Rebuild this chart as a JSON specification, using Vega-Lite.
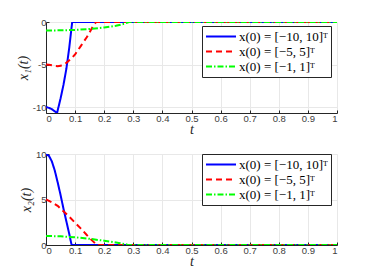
{
  "$schema": "https://vega.github.io/schema/vega-lite/v6.json",
  "background": "white",
  "padding": {"left": 16, "top": 17, "right": 5, "bottom": 5},
  "spacing": 12,
  "config": {
    "view": {"stroke": null},
    "axis": {
      "domainColor": "#262626", "tickColor": "#262626", "tickSize": -3,
      "gridColor": "#e8e8e8", "labelColor": "#404040", "labelFont": "Liberation Sans",
      "labelFontSize": 9.5, "titleFont": "Liberation Serif", "titleFontStyle": "italic",
      "titleFontWeight": "normal", "titleFontSize": 14, "titleColor": "#262626"
    },
    "legend": {
      "orient": "none", "legendX": 156, "strokeColor": "#262626", "fillColor": "white",
      "padding": 3, "rowPadding": 0, "clipHeight": 15, "symbolType": "stroke", "symbolSize": 900,
      "symbolStrokeWidth": 2, "labelFont": "Liberation Serif", "labelFontSize": 13,
      "labelColor": "#000000", "labelOffset": 2, "title": null
    }
  },
  "datasets": {
    "x1": [
      {"s": "x(0) = [−10, 10]ᵀ", "t": 0, "v": -10},
      {"s": "x(0) = [−10, 10]ᵀ", "t": 0.01, "v": -10.1},
      {"s": "x(0) = [−10, 10]ᵀ", "t": 0.02, "v": -10.25},
      {"s": "x(0) = [−10, 10]ᵀ", "t": 0.03, "v": -10.5},
      {"s": "x(0) = [−10, 10]ᵀ", "t": 0.038, "v": -10.7},
      {"s": "x(0) = [−10, 10]ᵀ", "t": 0.05, "v": -9.0},
      {"s": "x(0) = [−10, 10]ᵀ", "t": 0.06, "v": -7.4},
      {"s": "x(0) = [−10, 10]ᵀ", "t": 0.07, "v": -5.5},
      {"s": "x(0) = [−10, 10]ᵀ", "t": 0.08, "v": -3.0},
      {"s": "x(0) = [−10, 10]ᵀ", "t": 0.09, "v": 0},
      {"s": "x(0) = [−10, 10]ᵀ", "t": 1, "v": 0},
      {"s": "x(0) = [−5, 5]ᵀ", "t": 0, "v": -5},
      {"s": "x(0) = [−5, 5]ᵀ", "t": 0.01, "v": -5.02},
      {"s": "x(0) = [−5, 5]ᵀ", "t": 0.02, "v": -5.08},
      {"s": "x(0) = [−5, 5]ᵀ", "t": 0.03, "v": -5.15},
      {"s": "x(0) = [−5, 5]ᵀ", "t": 0.04, "v": -5.2},
      {"s": "x(0) = [−5, 5]ᵀ", "t": 0.05, "v": -5.15},
      {"s": "x(0) = [−5, 5]ᵀ", "t": 0.06, "v": -5.0},
      {"s": "x(0) = [−5, 5]ᵀ", "t": 0.07, "v": -4.8},
      {"s": "x(0) = [−5, 5]ᵀ", "t": 0.08, "v": -4.5},
      {"s": "x(0) = [−5, 5]ᵀ", "t": 0.09, "v": -4.2},
      {"s": "x(0) = [−5, 5]ᵀ", "t": 0.1, "v": -3.8},
      {"s": "x(0) = [−5, 5]ᵀ", "t": 0.11, "v": -3.3},
      {"s": "x(0) = [−5, 5]ᵀ", "t": 0.12, "v": -2.8},
      {"s": "x(0) = [−5, 5]ᵀ", "t": 0.13, "v": -2.3},
      {"s": "x(0) = [−5, 5]ᵀ", "t": 0.14, "v": -1.8},
      {"s": "x(0) = [−5, 5]ᵀ", "t": 0.15, "v": -1.2},
      {"s": "x(0) = [−5, 5]ᵀ", "t": 0.16, "v": -0.6},
      {"s": "x(0) = [−5, 5]ᵀ", "t": 0.172, "v": 0},
      {"s": "x(0) = [−5, 5]ᵀ", "t": 1, "v": 0},
      {"s": "x(0) = [−1, 1]ᵀ", "t": 0, "v": -1},
      {"s": "x(0) = [−1, 1]ᵀ", "t": 0.05, "v": -0.98},
      {"s": "x(0) = [−1, 1]ᵀ", "t": 0.1, "v": -0.93},
      {"s": "x(0) = [−1, 1]ᵀ", "t": 0.15, "v": -0.82},
      {"s": "x(0) = [−1, 1]ᵀ", "t": 0.2, "v": -0.65},
      {"s": "x(0) = [−1, 1]ᵀ", "t": 0.24, "v": -0.45},
      {"s": "x(0) = [−1, 1]ᵀ", "t": 0.27, "v": -0.2},
      {"s": "x(0) = [−1, 1]ᵀ", "t": 0.285, "v": 0},
      {"s": "x(0) = [−1, 1]ᵀ", "t": 1, "v": 0}
    ],
    "x2": [
      {"s": "x(0) = [−10, 10]ᵀ", "t": 0, "v": 10},
      {"s": "x(0) = [−10, 10]ᵀ", "t": 0.01, "v": 9.8},
      {"s": "x(0) = [−10, 10]ᵀ", "t": 0.02, "v": 9.2},
      {"s": "x(0) = [−10, 10]ᵀ", "t": 0.03, "v": 8.2},
      {"s": "x(0) = [−10, 10]ᵀ", "t": 0.04, "v": 6.9},
      {"s": "x(0) = [−10, 10]ᵀ", "t": 0.05, "v": 5.5},
      {"s": "x(0) = [−10, 10]ᵀ", "t": 0.06, "v": 4.0},
      {"s": "x(0) = [−10, 10]ᵀ", "t": 0.07, "v": 2.6},
      {"s": "x(0) = [−10, 10]ᵀ", "t": 0.08, "v": 1.2},
      {"s": "x(0) = [−10, 10]ᵀ", "t": 0.088, "v": 0},
      {"s": "x(0) = [−10, 10]ᵀ", "t": 1, "v": 0},
      {"s": "x(0) = [−5, 5]ᵀ", "t": 0, "v": 5},
      {"s": "x(0) = [−5, 5]ᵀ", "t": 0.02, "v": 4.7},
      {"s": "x(0) = [−5, 5]ᵀ", "t": 0.04, "v": 4.3},
      {"s": "x(0) = [−5, 5]ᵀ", "t": 0.06, "v": 3.7},
      {"s": "x(0) = [−5, 5]ᵀ", "t": 0.08, "v": 3.1},
      {"s": "x(0) = [−5, 5]ᵀ", "t": 0.1, "v": 2.45},
      {"s": "x(0) = [−5, 5]ᵀ", "t": 0.12, "v": 1.8},
      {"s": "x(0) = [−5, 5]ᵀ", "t": 0.14, "v": 1.1},
      {"s": "x(0) = [−5, 5]ᵀ", "t": 0.16, "v": 0.45},
      {"s": "x(0) = [−5, 5]ᵀ", "t": 0.175, "v": 0},
      {"s": "x(0) = [−5, 5]ᵀ", "t": 1, "v": 0},
      {"s": "x(0) = [−1, 1]ᵀ", "t": 0, "v": 1},
      {"s": "x(0) = [−1, 1]ᵀ", "t": 0.05, "v": 0.95},
      {"s": "x(0) = [−1, 1]ᵀ", "t": 0.1, "v": 0.85},
      {"s": "x(0) = [−1, 1]ᵀ", "t": 0.15, "v": 0.68},
      {"s": "x(0) = [−1, 1]ᵀ", "t": 0.2, "v": 0.47},
      {"s": "x(0) = [−1, 1]ᵀ", "t": 0.25, "v": 0.22},
      {"s": "x(0) = [−1, 1]ᵀ", "t": 0.28, "v": 0.04},
      {"s": "x(0) = [−1, 1]ᵀ", "t": 0.3, "v": 0},
      {"s": "x(0) = [−1, 1]ᵀ", "t": 1, "v": 0}
    ]
  },
  "resolve": {"scale": {"color": "independent", "strokeDash": "independent"}, "legend": {"color": "independent", "strokeDash": "independent"}},
  "vconcat": [
    {
      "width": 291, "height": 91,
      "data": {"name": "x1"},
      "mark": {"type": "line", "strokeWidth": 2, "clip": true},
      "encoding": {
        "x": {"field": "t", "type": "quantitative", "scale": {"domain": [0, 1], "nice": false},
              "axis": {"values": [0,0.1,0.2,0.3,0.4,0.5,0.6,0.7,0.8,0.9,1], "format": "~g", "title": "t", "titlePadding": 0, "labelPadding": 3}},
        "y": {"field": "v", "type": "quantitative", "scale": {"domain": [-10.7, 0], "nice": false, "zero": false},
              "axis": {"values": [-10, -5, 0], "labelExpr": "replace(datum.label, '−', '-')", "title": "x₁(t)", "titlePadding": 2, "labelPadding": 3}},
        "color": {"field": "s", "type": "nominal",
                  "scale": {"domain": ["x(0) = [−10, 10]ᵀ", "x(0) = [−5, 5]ᵀ", "x(0) = [−1, 1]ᵀ"], "range": ["#0000ff", "#ff0000", "#00ff00"]},
                  "legend": {"legendY": 4}},
        "strokeDash": {"field": "s", "type": "nominal",
                  "scale": {"domain": ["x(0) = [−10, 10]ᵀ", "x(0) = [−5, 5]ᵀ", "x(0) = [−1, 1]ᵀ"], "range": [[1, 0], [6, 4], [6, 2, 1.5, 2]]},
                  "legend": {"legendY": 4}}
      }
    },
    {
      "width": 291, "height": 91,
      "data": {"name": "x2"},
      "mark": {"type": "line", "strokeWidth": 2, "clip": true},
      "encoding": {
        "x": {"field": "t", "type": "quantitative", "scale": {"domain": [0, 1], "nice": false},
              "axis": {"values": [0,0.1,0.2,0.3,0.4,0.5,0.6,0.7,0.8,0.9,1], "format": "~g", "title": "t", "titlePadding": 0, "labelPadding": 3}},
        "y": {"field": "v", "type": "quantitative", "scale": {"domain": [0, 10], "nice": false},
              "axis": {"values": [0, 5, 10], "title": "x₂(t)", "titlePadding": 2, "labelPadding": 3}},
        "color": {"field": "s", "type": "nominal",
                  "scale": {"domain": ["x(0) = [−10, 10]ᵀ", "x(0) = [−5, 5]ᵀ", "x(0) = [−1, 1]ᵀ"], "range": ["#0000ff", "#ff0000", "#00ff00"]},
                  "legend": {"legendY": 0}},
        "strokeDash": {"field": "s", "type": "nominal",
                  "scale": {"domain": ["x(0) = [−10, 10]ᵀ", "x(0) = [−5, 5]ᵀ", "x(0) = [−1, 1]ᵀ"], "range": [[1, 0], [6, 4], [6, 2, 1.5, 2]]},
                  "legend": {"legendY": 0}}
      }
    }
  ]
}
